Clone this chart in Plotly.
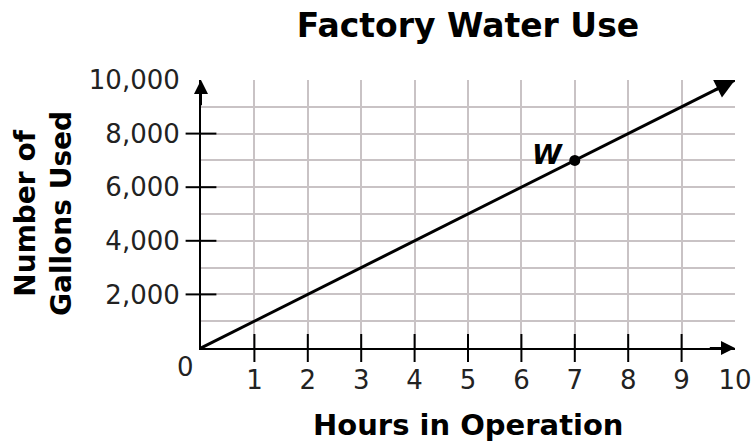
import plotly.graph_objects as go

# ---- data ----
hours = [0, 10]
gallons = [0, 10000]
point_w_x = [7]
point_w_y = [7000]
point_w_label = ["W"]

x_tick_vals = [1, 2, 3, 4, 5, 6, 7, 8, 9, 10]
x_tick_text = ["1", "2", "3", "4", "5", "6", "7", "8", "9", "10"]
y_tick_vals = [1000, 2000, 3000, 4000, 5000, 6000, 7000, 8000, 9000, 10000]
y_tick_text = ["", "2,000", "", "4,000", "", "6,000", "", "8,000", "", "10,000"]
x_mark_vals = [1, 2, 3, 4, 5, 6, 7, 8, 9]
y_mark_vals = [2000, 4000, 6000, 8000]

FONT = "DejaVu Sans"
GRID = "#c9c3c5"

fig = go.Figure()

# main line
fig.add_trace(go.Scatter(x=hours, y=gallons, mode="lines",
                         line=dict(color="black", width=3), cliponaxis=False,
                         hoverinfo="skip", showlegend=False))
# crossing tick marks
fig.add_trace(go.Scatter(x=x_mark_vals, y=[0] * len(x_mark_vals), mode="markers",
                         marker=dict(symbol="line-ns", size=20,
                                     line=dict(color="black", width=2)),
                         cliponaxis=False, hoverinfo="skip", showlegend=False))
fig.add_trace(go.Scatter(x=[0] * len(y_mark_vals), y=y_mark_vals, mode="markers",
                         marker=dict(symbol="line-ew", size=22,
                                     line=dict(color="black", width=2)),
                         cliponaxis=False, hoverinfo="skip", showlegend=False))
# point W
fig.add_trace(go.Scatter(x=point_w_x, y=point_w_y, mode="markers",
                         marker=dict(symbol="circle", size=11, color="black"),
                         cliponaxis=False, hoverinfo="skip", showlegend=False))

annotations = []
# point label
annotations.append(dict(x=point_w_x[0], y=point_w_y[0], xref="x", yref="y",
                        text="<b><i>" + point_w_label[0] + "</i></b>", showarrow=False,
                        xanchor="right", yanchor="middle", xshift=-10, yshift=6,
                        font=dict(family=FONT, size=27, color="black")))
# arrowheads
annotations.append(dict(x=hours[-1], y=gallons[-1], ax=9.6, ay=9600,
                        xref="x", yref="y", axref="x", ayref="y", text="",
                        showarrow=True, arrowhead=2, arrowsize=1.3, arrowwidth=3,
                        arrowcolor="black"))
annotations.append(dict(x=10, y=0, ax=9.5, ay=0,
                        xref="x", yref="y", axref="x", ayref="y", text="",
                        showarrow=True, arrowhead=2, arrowsize=1.4, arrowwidth=2,
                        arrowcolor="black"))
annotations.append(dict(x=0, y=10000, ax=0, ay=9000,
                        xref="x", yref="y", axref="x", ayref="y", text="",
                        showarrow=True, arrowhead=2, arrowsize=1.4, arrowwidth=2,
                        arrowcolor="black"))
# origin label
annotations.append(dict(x=0, y=0, xref="x", yref="y", text="0", showarrow=False,
                        xanchor="center", yanchor="middle", xshift=-16, yshift=-19,
                        font=dict(family=FONT, size=26, color="#222")))
# axis titles
annotations.append(dict(x=0.5, y=0, xref="paper", yref="paper",
                        text="<b>Hours in Operation</b>", showarrow=False,
                        xanchor="center", yanchor="middle", yshift=-77,
                        font=dict(family=FONT, size=29, color="black")))
annotations.append(dict(x=0, y=0.5, xref="paper", yref="paper",
                        text="<b>Number of<br>Gallons Used</b>", showarrow=False,
                        textangle=-90, xanchor="center", yanchor="middle", xshift=-158,
                        font=dict(family=FONT, size=28, color="black")))

fig.update_layout(
    width=754, height=442,
    margin=dict(l=201, r=19, t=80, b=94, autoexpand=False),
    paper_bgcolor="white", plot_bgcolor="white",
    title=dict(text="<b>Factory Water Use</b>", x=0.5, xref="paper", xanchor="center",
               y=1 - 25 / 442, yanchor="middle",
               font=dict(family=FONT, size=33, color="black")),
    annotations=annotations,
    font=dict(family=FONT, color="#222"),
)
fig.update_xaxes(range=[0, 10], tickmode="array", tickvals=x_tick_vals, ticktext=x_tick_text,
                 showgrid=True, gridcolor=GRID, gridwidth=1.5, zeroline=False,
                 showline=True, linecolor="black", linewidth=2, ticks="", automargin=False,
                 ticklabelstandoff=8, tickfont=dict(family=FONT, size=26, color="#222"))
fig.update_yaxes(range=[0, 10000], tickmode="array", tickvals=y_tick_vals, ticktext=y_tick_text,
                 showgrid=True, gridcolor=GRID, gridwidth=1.5, zeroline=False,
                 showline=True, linecolor="black", linewidth=2, ticks="", automargin=False,
                 ticklabelstandoff=14, tickfont=dict(family=FONT, size=26, color="#222"))

fig.write_html("out.html", config={"displayModeBar": False},
               post_script="document.body.style.margin='0';document.body.style.padding='0';")
